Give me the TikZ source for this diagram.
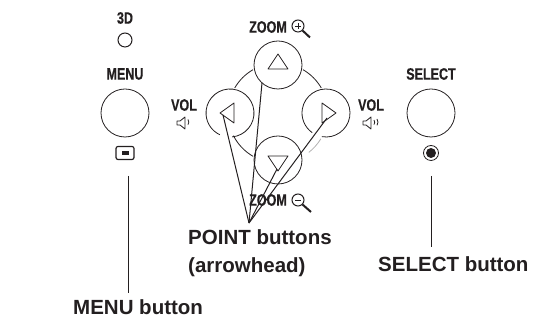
\documentclass[tikz,border=0pt]{standalone}
\usepackage{fontspec}
\setmainfont{Liberation Sans}
\newfontfamily\panelfont[FakeStretch=0.76,FakeBold=0.4]{Liberation Sans}
\definecolor{panelink}{HTML}{231F20}
\tikzset{
  panelbtn/.style={draw=panelink, circle, line width=0.8pt, minimum size=48pt, inner sep=0pt},
  panellabel/.style={font=\panelfont\bfseries\fontsize{16.5}{16.5}\selectfont, text=panelink, inner sep=0pt},
  calllabel/.style={font=\bfseries\fontsize{20.5}{26}\selectfont, text=panelink, inner sep=0pt, align=left},
  leader/.style={draw=panelink, line width=1pt},
  outline/.style={draw=panelink, line width=0.8pt},
}
\begin{document}
\begin{tikzpicture}[x=1pt, y=1pt]
  \useasboundingbox (0,0) rectangle (541,320);

  \node[panellabel] (threedlabel) at (125,302) {3D};
  \node[panelbtn, minimum size=14pt, line width=1pt] (threedled) at (125,280) {};
  \node[panellabel] (menulabel) at (125,246) {MENU};
  \node[panelbtn] (menubtn) at (125,207) {};
  \node[draw=panelink, line width=1.2pt, rounded corners=2pt, minimum width=18pt, minimum height=13pt, inner sep=0pt] (menuicon) at (125,167) {};
  \node[fill=panelink, minimum width=7pt, minimum height=4pt, inner sep=0pt] (menudot) at (125,167) {};

  \node[panellabel] (volleft) at (184,215) {VOL};
  \draw[outline, line join=round] (177,199) -- (180,199) -- (185,203) -- (185,191) -- (180,195) -- (177,195) -- cycle;
  \draw[outline] (188,200.5) arc (35:-35:4.5);

  \node[panellabel] (volright) at (371,215) {VOL};
  \draw[outline, line join=round] (363,199) -- (366,199) -- (371,203) -- (371,191) -- (366,195) -- (363,195) -- cycle;
  \draw[outline] (374,200) arc (35:-35:4);
  \draw[outline] (377,201) arc (35:-35:5.5);

  \node[panellabel] (selectlabel) at (431,246) {SELECT};
  \node[panelbtn] (selectbtn) at (431,207) {};
  \node[panelbtn, minimum size=15pt] (selectled) at (431,167) {};
  \node[circle, fill=panelink, minimum size=10pt, inner sep=0pt] (selectdot) at (431,167) {};

  \coordinate (padcentre) at (278,207);
  \coordinate (leftcentre) at (230,207);
  \coordinate (rightcentre) at (326,207);
  \node[panelbtn] (upbtn) at (278,255) {};
  \node[panelbtn] (downbtn) at (278,160) {};
  \draw[outline] ([shift={(-85:24)}]leftcentre) arc (-85:245:24);
  \draw[outline] ([shift={(-100:24)}]rightcentre) arc (-100:235:24);
  \draw[outline] ([shift={(120:50)}]padcentre) arc (120:150:50);
  \draw[outline] ([shift={(60:50)}]padcentre) arc (60:30:50);
  \draw[outline] ([shift={(207:50)}]padcentre) arc (207:240:50);
  \draw[outline, draw=panelink!35] ([shift={(-52:50)}]padcentre) arc (-52:-31:50);

  \draw[outline, line join=round] (278,266) -- (268,251) -- (288,251) -- cycle;
  \draw[outline, line join=round] (278,149) -- (268,164) -- (288,164) -- cycle;
  \draw[outline, line join=round] (220,207) -- (234,217) -- (234,197) -- cycle;
  \draw[outline, line join=round] (336,207) -- (322,217) -- (322,197) -- cycle;

  \node[panellabel] (zoomin) at (268,293) {ZOOM};
  \draw[outline, line width=1pt] (298,294) circle (6);
  \draw[outline] (295,294) -- (301,294) (298,291) -- (298,297);
  \draw[panelink, line width=2pt] (302.5,289.5) -- (310,282.5);

  \node[panellabel] (zoomout) at (268,120) {ZOOM};
  \draw[outline, line width=1pt] (298,120) circle (6);
  \draw[outline] (295,120) -- (301,120);
  \draw[panelink, line width=2pt] (302.5,115.5) -- (311,108);

  \node[calllabel, anchor=base west] (pointlabel) at (188,75) {POINT buttons};
  \node[calllabel, anchor=base west] (arrowlabel) at (188,47) {(arrowhead)};
  \node[calllabel, anchor=base west] (selectcall) at (378,48) {SELECT button};
  \node[calllabel, anchor=base west] (menucall) at (73,5) {MENU button};

  \coordinate (pointhub) at (249,97);
  \coordinate (upend) at (262,237);
  \coordinate (leftend) at (223,205);
  \coordinate (rightend) at (327,202);
  \coordinate (downend) at (277,151);
  \draw[leader] (pointhub) -- (upend);
  \draw[leader] (pointhub) -- (leftend);
  \draw[leader] (pointhub) -- (rightend);
  \draw[leader] (pointhub) -- (downend);

  \coordinate (menutop) at (128,144);
  \coordinate (menubottom) at (128,27);
  \coordinate (selecttop) at (431,144);
  \coordinate (selectbottom) at (431,73);
  \draw[leader] (menutop) -- (menubottom);
  \draw[leader] (selecttop) -- (selectbottom);
\end{tikzpicture}
\end{document}
